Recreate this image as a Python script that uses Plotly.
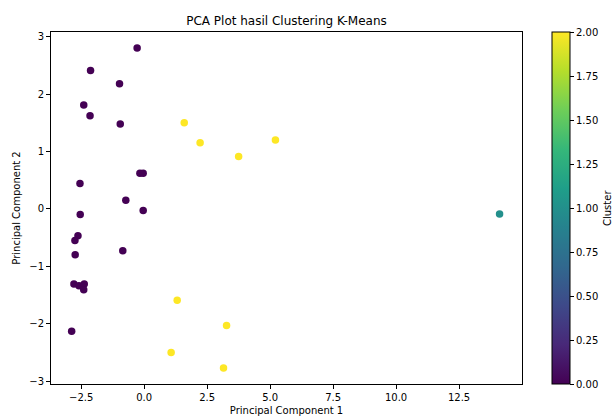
import plotly.graph_objects as go

pc1 = [-0.28, -2.13, -0.98, -2.40, -2.15, -0.95, -0.17, -0.04, -2.55, -0.73, -0.04,
       -2.54, -2.63, -2.75, -2.74, -0.85, -2.79, -2.59, -2.38, -2.40, -2.88,
       1.59, 2.22, 5.21, 3.75, 1.31, 3.27, 1.07, 3.15,
       14.11]
pc2 = [2.80, 2.41, 2.18, 1.81, 1.62, 1.48, 0.62, 0.62, 0.44, 0.15, -0.03,
       -0.10, -0.47, -0.55, -0.80, -0.73, -1.31, -1.34, -1.31, -1.41, -2.13,
       1.50, 1.15, 1.20, 0.91, -1.59, -2.03, -2.50, -2.77,
       -0.09]
cluster = [0] * 21 + [2] * 8 + [1]

x_ticks = [-2.5, 0.0, 2.5, 5.0, 7.5, 10.0, 12.5]
y_ticks = [-3, -2, -1, 0, 1, 2, 3]
cb_ticks = [0, 0.25, 0.5, 0.75, 1.0, 1.25, 1.5, 1.75, 2.0]

font = "DejaVu Sans, sans-serif"

W, H = 613, 417
L, R, T, B = 51, 91, 32, 33
PW = W - L - R

fig = go.Figure(go.Scatter(
    x=pc1, y=pc2, mode="markers",
    marker=dict(
        size=7.5, color=cluster, colorscale="Viridis", cmin=0, cmax=2,
        line=dict(width=0),
        showscale=True,
        colorbar=dict(
            x=(552 - L) / PW, xanchor="left", xref="paper", xpad=0, ypad=0,
            y=0.5, yanchor="middle", len=1, lenmode="fraction",
            thickness=18, outlinewidth=1, outlinecolor="black",
            tickvals=cb_ticks, ticktext=[f"{v:.2f}" for v in cb_ticks],
            ticks="outside", ticklen=4, tickcolor="black",
            tickfont=dict(family=font, size=10, color="black"),
        ),
    ),
    showlegend=False,
))

fig.add_annotation(
    text="Cluster", textangle=-90, showarrow=False,
    xref="paper", yref="paper", x=(607 - L) / PW, y=0.5,
    xanchor="center", yanchor="middle", borderpad=0,
    font=dict(family=font, size=10, color="black"),
)

axis_common = dict(
    showline=True, mirror=True, linecolor="black", linewidth=1,
    ticks="outside", ticklen=4, tickcolor="black",
    showgrid=False, zeroline=False,
    tickfont=dict(family=font, size=10, color="black"),
)

fig.update_layout(
    width=W, height=H,
    margin=dict(l=L, r=R, t=T, b=B, autoexpand=False),
    paper_bgcolor="white", plot_bgcolor="white",
    title=dict(text="PCA Plot hasil Clustering K-Means",
               x=(L + (W - R)) / 2 / W,
               xanchor="center", y=1 - 21 / H, yanchor="middle",
               font=dict(family=font, size=12, color="black")),
    xaxis=dict(range=[-3.7, 15.0], tickvals=x_ticks,
               ticktext=[f"{v:.1f}".replace("-", "\u2212") for v in x_ticks],
               title=dict(text="Principal Component 1", standoff=4,
                          font=dict(family=font, size=10, color="black")),
               automargin=False, **axis_common),
    yaxis=dict(range=[-3.05, 3.08], tickvals=y_ticks,
               ticktext=[str(v).replace("-", "\u2212") for v in y_ticks],
               title=dict(text="Principal Component 2", standoff=6,
                          font=dict(family=font, size=10, color="black")),
               automargin=False, **axis_common),
)

fig.write_html(
    "out.html",
    config={"displayModeBar": False},
    post_script="document.body.style.margin='0';document.body.style.overflow='hidden';",
)
